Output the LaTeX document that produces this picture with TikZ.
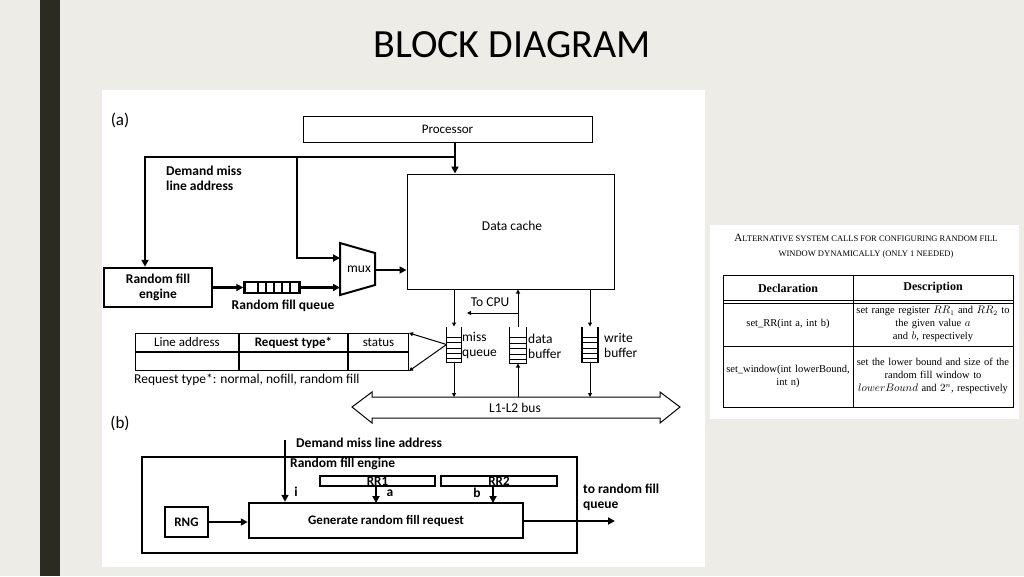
\documentclass[tikz,border=0pt]{standalone}
\usepackage{fontspec}
\setmainfont{Carlito}
\newfontfamily\serifs{Liberation Serif}
\usetikzlibrary{arrows.meta,positioning,calc}
\definecolor{slide}{HTML}{EEECE6}
\definecolor{bar}{HTML}{2B2B22}
\newcommand{\capsm}[1]{{\fontsize{8.5}{12}\selectfont #1}}
\tikzstyle{box}     = [draw, line width=1pt, inner sep=0pt, font=\fontsize{13}{14}\selectfont]
\tikzstyle{thickbox}= [box, line width=2.5pt, font=\bfseries\fontsize{13.5}{15}\selectfont, align=center]
\tikzstyle{wire}    = [line width=2.4pt, -{Triangle[length=7pt,width=7pt]}]
\tikzstyle{thin}    = [line width=1pt, -{Triangle[length=4pt,width=4pt]}]
\tikzstyle{lbl}     = [inner sep=0pt, font=\bfseries\fontsize{13.5}{15}\selectfont, align=left]
\tikzstyle{tlbl}    = [inner sep=0pt, font=\fontsize{13.5}{15}\selectfont]
\tikzstyle{cell}    = [inner sep=0pt, font=\serifs\fontsize{10.5}{13}\selectfont, align=center, text width=140pt]
\begin{document}
\begin{tikzpicture}[x=1pt,y=-1pt]
		\fill[slide] (0,0) rectangle (1024,576);
		\useasboundingbox (0,0) rectangle (1024,576);
		\fill[bar] (40,0) rectangle (60,576);
		\node[font=\fontsize{40}{40}\selectfont] (title) at (512,45) {BLOCK DIAGRAM};
		\fill[white] (102,90) rectangle (705,567);
		\fill[white] (710,225) rectangle (1019,419);

		% (a) memory side
		\node[tlbl, font=\fontsize{17}{17}\selectfont] (la) at (120,120) {(a)};
		\node[box, minimum width=289pt, minimum height=26pt] (proc) at (447.5,129) {Processor};
		\node[box, minimum width=207pt, minimum height=115pt] (cache) at (510.5,231.5) {};
		\node[tlbl] (cachetxt) at (512,226) {Data cache};
		\node[thickbox, minimum width=108pt, minimum height=39pt] (engine) at (158,287.5) {Random fill\\engine};
		\node[box, minimum width=55pt, minimum height=11pt, line width=2.4pt] (rfq) at (272,287.5) {};
		\foreach \x in {258,266,274,282,290} \draw[line width=2pt] (\x,282) -- (\x,293);
		\node[lbl] (rfqtxt) at (283,306) {Random fill queue};
		\node[lbl, anchor=west] (dml) at (166,178) {Demand miss\\line address};

		% mux
		\draw[line width=2pt] (340,243) -- (375,253) -- (375,285) -- (340,295) -- cycle;
		\coordinate (muxin1) at (340,258);
		\coordinate (muxin2) at (340,287.5);
		\coordinate (muxout) at (375,270);
		\node[tlbl] (mux) at (359,269) {mux};

		\coordinate (split) at (455,157);
		\coordinate (left) at (145,157);
		\coordinate (mid) at (297,157);
		\draw[line width=2.4pt] (proc.south -| split) -- (split);
		\draw[wire] (split) -- (split |- cache.north);
		\draw[wire] (split) -- (left) -- (left |- engine.north);
		\draw[wire] (mid) -- (mid |- muxin1) -- (muxin1);
		\draw[wire] (engine.east |- rfq) -- (rfq.west);
		\draw[wire] (rfq.east) -- (muxin2);
		\draw[wire] (muxout) -- (muxout -| cache.west);

		% queues and buffers
		\node[box, minimum width=14pt, minimum height=35pt, draw=none] (missq) at (454,344.5) {};
		\node[box, minimum width=16pt, minimum height=36pt, draw=none] (datab) at (518,345) {};
		\node[box, minimum width=15pt, minimum height=35pt, draw=none] (writeb) at (590,344.5) {};
		\foreach \q in {missq,datab,writeb} {
			\draw[line width=1.5pt] (\q.north west) -- (\q.south west);
			\draw[line width=1.5pt] (\q.north east) -- (\q.south east);
			\foreach \t in {0.3,0.45,0.6,0.75,0.9,1} \draw[line width=1pt] ($(\q.north west)!\t!(\q.south west)$) -- ($(\q.north east)!\t!(\q.south east)$);
		}
		\node[tlbl, align=left, anchor=west] (missqtxt) at (462,345) {miss\\queue};
		\node[tlbl, align=left, anchor=west] (databtxt) at (528,346) {data\\buffer};
		\node[tlbl, align=left, anchor=west] (writebtxt) at (604,345) {write\\buffer};

		% bus
		\draw[line width=1pt] (352,407) -- (372,392) -- (372,397) -- (660,397) -- (660,392) -- (680,407) -- (660,423) -- (660,418) -- (372,418) -- (372,423) -- cycle;
		\node[tlbl] (bus) at (515,408) {L1-L2 bus};

		\draw[thin] (missq.north |- cache.south) -- (missq.north);
		\draw[thin] (datab.north) -- (datab.north |- cache.south);
		\draw[thin] (writeb.north |- cache.south) -- (writeb.north);
		\coordinate (tocpu) at (467,313);
		\draw[thin] (tocpu -| datab) -- (tocpu);
		\node[tlbl] (tocputxt) at (490,302) {To CPU};
		\draw[thin] (missq.south) -- (454,397);
		\draw[thin] (writeb.south) -- (590,397);
		\draw[thin] (518,397) -- (datab.south);

		% request table
		\node[box, minimum width=103pt, minimum height=18pt, anchor=north west] (tab1) at (135,333) {Line address};
		\node[box, minimum width=108pt, minimum height=18pt, anchor=west, font=\bfseries\fontsize{13}{14}\selectfont] (tab2) at (tab1.east) {Request type*};
		\node[box, minimum width=60pt, minimum height=18pt, anchor=west] (tab3) at (tab2.east) {status};
		\node[box, minimum width=103pt, minimum height=18pt, anchor=north] (tab4) at (tab1.south) {};
		\node[box, minimum width=108pt, minimum height=18pt, anchor=north] (tab5) at (tab2.south) {};
		\node[box, minimum width=60pt, minimum height=18pt, anchor=north] (tab6) at (tab3.south) {};
		\draw[thin] (missq.west) -- (tab3.north east);
		\draw[thin] (missq.west) -- (tab6.south east);
		\node[tlbl, anchor=west] (reqtype) at (134,380) {Request type*: normal, nofill, random fill};

		% (b) random fill engine
		\node[tlbl, font=\fontsize{17}{17}\selectfont] (lb) at (120,423) {(b)};
		\node[box, line width=2.5pt, minimum width=435pt, minimum height=96pt] (outer) at (359.5,505) {};
		\node[lbl, anchor=west] (rfe) at (290,464) {Random fill engine};
		\node[box, line width=2.5pt, minimum width=274pt, minimum height=35pt] (gen) at (386,520.5) {\bfseries Generate random fill request};
		\node[box, line width=2.5pt, minimum width=43pt, minimum height=30pt] (rng) at (186.5,522) {\bfseries RNG};
		\node[box, line width=2.5pt, minimum width=115pt, minimum height=10pt] (rr1) at (377.5,481) {\bfseries RR1};
		\node[box, line width=2.5pt, minimum width=116pt, minimum height=10pt] (rr2) at (499,481) {\bfseries RR2};
		\coordinate (dmin) at (285,440);
		\coordinate (out) at (615,521);
		\draw[wire] (dmin) -- (dmin |- gen.north);
		\node[lbl, anchor=west] (dmltxt) at (296,443) {Demand miss line address};
		\draw[wire] (376,486) -- (376,503);
		\draw[wire] (493,486) -- (493,503);
		\node[lbl] (ii) at (296,492) {i};
		\node[lbl] (aa) at (390,493) {a};
		\node[lbl] (bb) at (477,493) {b};
		\draw[wire] (rng.east) -- (rng.east -| gen.west);
		\draw[wire] (gen.east |- out) -- (out);
		\node[lbl, anchor=west] (outtxt) at (583,497) {to random fill\\queue};

		% system call table
		\node[inner sep=0pt, font=\serifs\fontsize{11}{15}\selectfont, align=center] (cap) at (866,246.5) {A\capsm{LTERNATIVE SYSTEM CALLS FOR CONFIGURING RANDOM FILL}\\\capsm{WINDOW DYNAMICALLY (ONLY 1 NEEDED)}};
		\draw[line width=0.8pt] (723,275) rectangle (1013,407);
		\draw[line width=0.6pt] (723,300) -- (1013,300);
		\draw[line width=0.6pt] (723,303) -- (1013,303);
		\draw[line width=0.6pt] (723,346) -- (1013,346);
		\draw[line width=0.6pt] (853,275) -- (853,407);
		\node[cell, font=\serifs\bfseries\fontsize{12}{13}\selectfont] (hd1) at (788,288) {Declaration};
		\node[cell, font=\serifs\bfseries\fontsize{12}{13}\selectfont] (hd2) at (933,288) {Description};
		\node[cell] (d1) at (788,324) {set\_RR(int a, int b)};
		\node[cell, text width=158pt] (e1) at (933,324) {set range register $RR_1$ and $RR_2$ to\\the given value $a$ and $b$, respectively};
		\node[cell, text width=125pt] (d2) at (788,376) {set\_window(int lowerBound,\\int n)};
		\node[cell, text width=158pt] (e2) at (933,376) {set the lower bound and size of the\\random fill window to\\$lowerBound$ and $2^n$, respectively};
	\end{tikzpicture}
\end{document}
